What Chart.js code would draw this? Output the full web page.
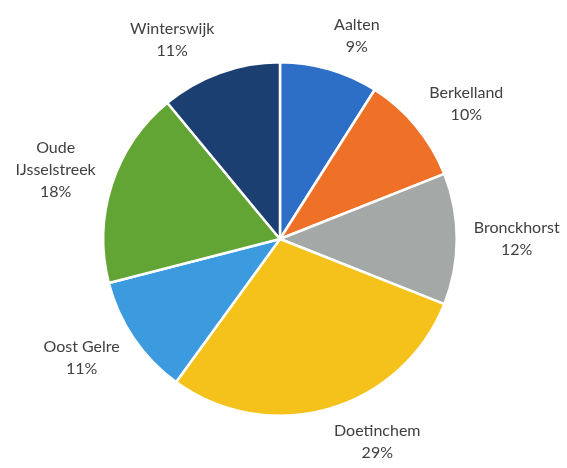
<!DOCTYPE html>
<html>
<head>
<meta charset="utf-8">
<script src="https://cdn.jsdelivr.net/npm/chart.js@4"></script>
<style>
  html, body { margin: 0; padding: 0; background: #fff; }
  #wrap { width: 567px; height: 468px; }
</style>
</head>
<body>
<div id="wrap"><canvas id="pie" width="567" height="468"></canvas></div>
<script>
  // data
  const gemeenten = ["Aalten", "Berkelland", "Bronckhorst", "Doetinchem", "Oost Gelre", "Oude IJsselstreek", "Winterswijk"];
  const aandeel = [9, 10, 12, 29, 11, 18, 11];
  const kleuren = ["#2D6FC6", "#EE7127", "#A4A9A7", "#F4C21A", "#3B9BDE", "#62A534", "#1C3F72"];

  // label lines: name (Oude IJsselstreek on two lines) + percentage
  function labelLines(i) {
    const name = gemeenten[i] === "Oude IJsselstreek" ? ["Oude", "IJsselstreek"] : [gemeenten[i]];
    return name.concat([aandeel[i] + "%"]);
  }

  const LINE_H = 22;
  const GAP = 17;

  // outside-end labels: box pushed out from the slice edge along the mid angle
  const outsideLabels = {
    id: "outsideLabels",
    afterDatasetsDraw(chart) {
      const ctx = chart.ctx;
      const arcs = chart.getDatasetMeta(0).data;
      ctx.save();
      ctx.font = "16px Lato, 'Noto Sans', sans-serif";
      ctx.fillStyle = "#404040";
      ctx.textAlign = "center";
      ctx.textBaseline = "middle";
      arcs.forEach((arc, i) => {
        const p = arc.getProps(["x", "y", "startAngle", "endAngle", "outerRadius"], true);
        const mid = (p.startAngle + p.endAngle) / 2;
        const ux = Math.cos(mid), uy = Math.sin(mid);
        const lines = labelLines(i);
        const halfW = Math.max(...lines.map(l => ctx.measureText(l).width)) / 2;
        const halfH = lines.length * LINE_H / 2 - 4;
        const fx = Math.max(-1, Math.min(1, ux * 4));
        const px = p.x + (p.outerRadius + GAP) * ux;
        const py = p.y + (p.outerRadius + GAP) * uy;
        const cx = px + fx * halfW;
        const cy = py + uy * halfH;
        lines.forEach((l, k) => {
          ctx.fillText(l, cx, cy + (k - (lines.length - 1) / 2) * LINE_H);
        });
      });
      ctx.restore();
    }
  };

  new Chart(document.getElementById("pie"), {
    type: "pie",
    data: {
      labels: gemeenten,
      datasets: [{
        data: aandeel,
        backgroundColor: kleuren,
        borderColor: "#ffffff",
        borderWidth: 2.5,
      }],
    },
    options: {
      responsive: false,
      animation: false,
      layout: { padding: { top: 61, bottom: 51, left: 102, right: 109 } },
      plugins: { legend: { display: false }, tooltip: { enabled: false } },
    },
    plugins: [outsideLabels],
  });
</script>
</body>
</html>
